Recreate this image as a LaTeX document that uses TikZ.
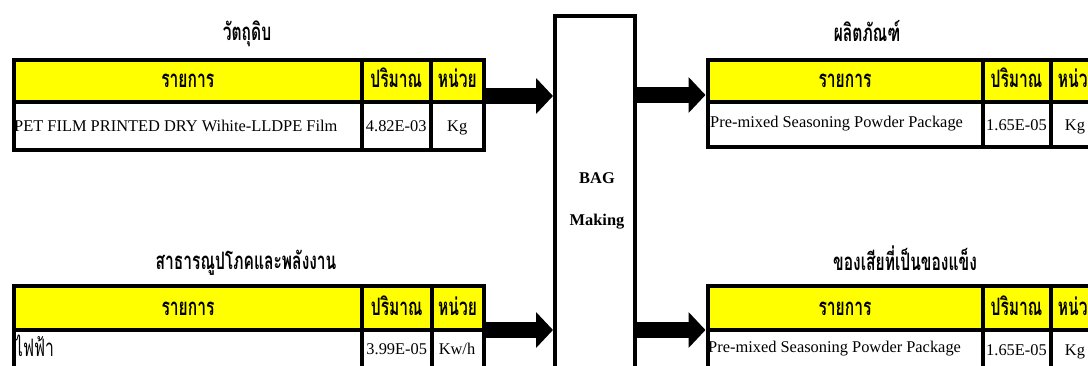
\documentclass[tikz,border=0pt]{standalone}
\usepackage{fontspec}
\setmainfont{Liberation Serif}
\newfontfamily\thai[Script=Thai,FakeStretch=0.65]{Loma}
\usetikzlibrary{arrows.meta}
\definecolor{hdr}{RGB}{255,255,0}
\tikzset{
  cellbox/.style={draw=black, line width=4pt, inner sep=0pt, anchor=north west},
  hdrbox/.style={cellbox, fill=hdr},
  latin/.style={font=\fontsize{16.4}{18}\selectfont, inner sep=0pt},
  thaihd/.style={font=\thai\bfseries\fontsize{24}{26}\selectfont, inner sep=0pt},
  thaitx/.style={font=\thai\fontsize{24}{26}\selectfont, inner sep=0pt},
  blockarrow/.style={line width=16pt, -{Triangle[length=17pt,width=35pt]}},
}
\newcommand\mkcell[6]{\node[#6, minimum width={(#4-#2)*1pt}, minimum height={(#5-#3)*1pt}] (#1) at (#2,#3) {};}
\begin{document}
\begin{tikzpicture}[x=1pt,y=-1pt]
\useasboundingbox (0,0) rectangle (1088,365);
\clip (0,0) rectangle (1088,365);
% ---------- top-left table ----------
\mkcell{tlh1}{12}{58}{359.5}{100}{hdrbox}
\mkcell{tlh2}{359.5}{58}{429}{100}{hdrbox}
\mkcell{tlh3}{429}{58}{481.5}{100}{hdrbox}
\mkcell{tlr1}{12}{100}{359.5}{147.5}{cellbox}
\mkcell{tlr2}{359.5}{100}{429}{147.5}{cellbox}
\mkcell{tlr3}{429}{100}{481.5}{147.5}{cellbox}
\node[thaihd, anchor=base] (tlt) at (247,40) {วัตถุดิบ};
\node[thaihd, anchor=base] at (tlh1.center |- 0,87) {รายการ};
\node[thaihd, anchor=base] at (tlh2.center |- 0,87) {ปริมาณ};
\node[thaihd, anchor=base] at (tlh3.center |- 0,87) {หน่วย};
\node[latin, anchor=base west] at (14,131) {PET FILM PRINTED DRY Wihite-LLDPE Film};
\node[latin, anchor=base] at (tlr2.center |- 0,131) {4.82E-03};
\node[latin, anchor=base] at (tlr3.center |- 0,131) {Kg};
% ---------- bottom-left table ----------
\mkcell{blh1}{12}{284}{360}{327.5}{hdrbox}
\mkcell{blh2}{360}{284}{429.5}{327.5}{hdrbox}
\mkcell{blh3}{429.5}{284}{481.5}{327.5}{hdrbox}
\mkcell{blr1}{12}{327.5}{360}{380}{cellbox}
\mkcell{blr2}{360}{327.5}{429.5}{380}{cellbox}
\mkcell{blr3}{429.5}{327.5}{481.5}{380}{cellbox}
\node[thaihd, anchor=base] (blt) at (246,269) {สาธารณูปโภคและพลังงาน};
\node[thaihd, anchor=base] at (blh1.center |- 0,315) {รายการ};
\node[thaihd, anchor=base] at (blh2.center |- 0,315) {ปริมาณ};
\node[thaihd, anchor=base] at (blh3.center |- 0,315) {หน่วย};
\node[thaitx, anchor=base west] at (15,356) {ไฟฟ้า};
\node[latin, anchor=base] at (blr2.center |- 0,354) {3.99E-05};
\node[latin, anchor=base] at (457,354) {Kw/h};
% ---------- top-right table ----------
\mkcell{trh1}{705.5}{58}{980.5}{100}{hdrbox}
\mkcell{trh2}{980.5}{58}{1048.5}{100}{hdrbox}
\mkcell{trh3}{1048.5}{58}{1102}{100}{hdrbox}
\mkcell{trr1}{705.5}{100}{980.5}{145}{cellbox}
\mkcell{trr2}{980.5}{100}{1048.5}{145}{cellbox}
\mkcell{trr3}{1048.5}{100}{1102}{145}{cellbox}
\node[thaihd, anchor=base] (trt) at (867,41) {ผลิตภัณฑ์};
\node[thaihd, anchor=base] at (trh1.center |- 0,87) {รายการ};
\node[thaihd, anchor=base] at (trh2.center |- 0,87) {ปริมาณ};
\node[thaihd, anchor=base] at (trh3.center |- 0,87) {หน่วย};
\node[latin, anchor=base west] at (710,127) {Pre-mixed Seasoning Powder Package};
\node[latin, anchor=base] at (trr2.center |- 0,130) {1.65E-05};
\node[latin, anchor=base] at (1075,130) {Kg};
% ---------- bottom-right table ----------
\mkcell{brh1}{705.5}{284}{980.5}{327.5}{hdrbox}
\mkcell{brh2}{980.5}{284}{1048.5}{327.5}{hdrbox}
\mkcell{brh3}{1048.5}{284}{1102}{327.5}{hdrbox}
\mkcell{brr1}{705.5}{327.5}{980.5}{380}{cellbox}
\mkcell{brr2}{980.5}{327.5}{1048.5}{380}{cellbox}
\mkcell{brr3}{1048.5}{327.5}{1102}{380}{cellbox}
\node[thaihd, anchor=base] (brt) at (905,270) {ของเสียที่เป็นของแข็ง};
\node[thaihd, anchor=base] at (brh1.center |- 0,315) {รายการ};
\node[thaihd, anchor=base] at (brh2.center |- 0,315) {ปริมาณ};
\node[thaihd, anchor=base] at (brh3.center |- 0,315) {หน่วย};
\node[latin, anchor=base west] at (708,352) {Pre-mixed Seasoning Powder Package};
\node[latin, anchor=base] at (brr2.center |- 0,355) {1.65E-05};
\node[latin, anchor=base] at (1075,355) {Kg};
% ---------- process box ----------
\node[draw=black, line width=4pt, minimum width=80pt, minimum height=368pt, inner sep=0pt] (box) at (595,199.5) {};
\node[latin, font=\bfseries\fontsize{16.4}{18}\selectfont, anchor=base] at (597,183) {BAG};
\node[latin, font=\bfseries\fontsize{16.4}{18}\selectfont, anchor=base] at (597,225) {Making};
% ---------- arrows ----------
\draw[blockarrow] (tlh3.east |- 0,96) -- (box.west |- 0,96);
\draw[blockarrow] (blh3.east |- 0,330) -- (box.west |- 0,330);
\draw[blockarrow] (box.east |- 0,95) -- (trh1.west |- 0,95);
\draw[blockarrow] (box.east |- 0,330) -- (brh1.west |- 0,330);
\end{tikzpicture}
\end{document}
